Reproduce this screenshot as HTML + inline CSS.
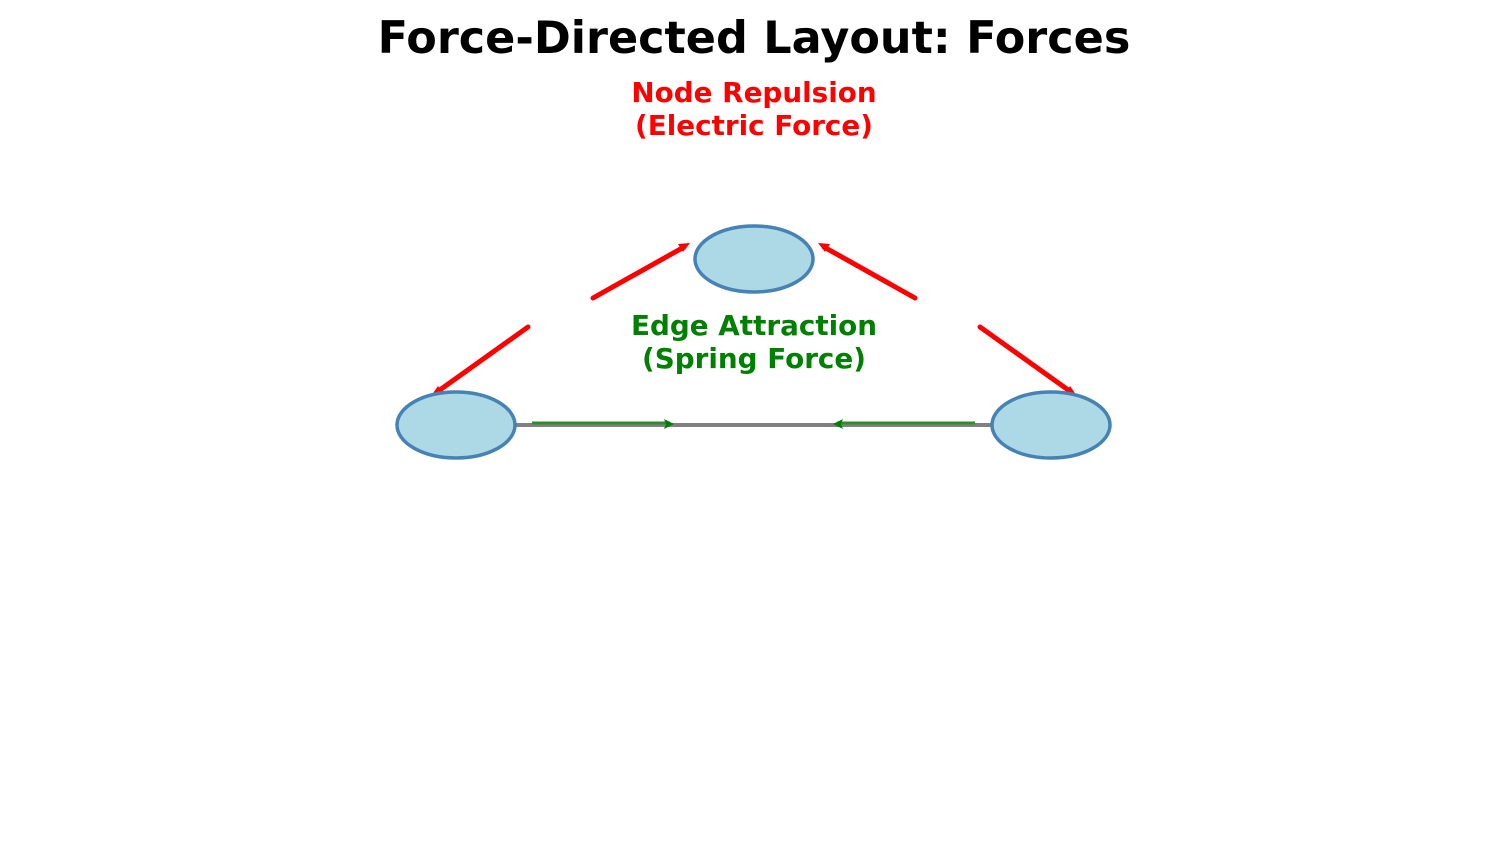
<!DOCTYPE html>
<html><head><style>
html,body{margin:0;padding:0;background:#fff;}
svg text{font-family:"DejaVu Sans","Liberation Sans",sans-serif;font-weight:bold;}
</style></head><body>
<svg width="1508" height="851" viewBox="0 0 1508 851" xmlns="http://www.w3.org/2000/svg">
<text x="754" y="53" text-anchor="middle" font-size="44.5" fill="#000">Force-Directed Layout: Forces</text>
<text x="754" y="102" text-anchor="middle" font-size="27.8" fill="#ff0000">Node Repulsion</text>
<text x="754" y="135" text-anchor="middle" font-size="27.8" fill="#ff0000">(Electric Force)</text>
<text x="754" y="335" text-anchor="middle" font-size="27.8" fill="#008000">Edge Attraction</text>
<text x="754" y="368" text-anchor="middle" font-size="27.8" fill="#008000">(Spring Force)</text>
<line x1="456" y1="425" x2="1051" y2="425" stroke="#808080" stroke-width="4"/>
<g stroke="#2e8b2e" stroke-width="3" fill="none">
<line x1="532" y1="423" x2="670" y2="423"/>
<line x1="975" y1="423" x2="837" y2="423"/>
</g>
<g fill="#008000">
<polygon points="674,424 664,419 666,424 664,429"/>
<polygon points="833,424 843,419 841,424 843,429"/>
</g>
<g stroke="#ff0000" stroke-width="5" stroke-linecap="round" fill="none">
<line x1="593" y1="298" x2="684" y2="247"/>
<line x1="528" y1="327" x2="437" y2="392"/>
<line x1="915" y1="298" x2="824" y2="247"/>
<line x1="980" y1="327" x2="1071" y2="392"/>
</g>
<g fill="#ff0000">
<polygon points="690,243 678,244 683,252"/>
<polygon points="818,243 830,244 825,252"/>
<polygon points="431,396 438,386 443,393"/>
<polygon points="1077,396 1070,386 1065,393"/>
</g>
<g fill="#add8e6" stroke="#4682b4" stroke-width="3.5">
<ellipse cx="754" cy="259" rx="59" ry="33"/>
<ellipse cx="456" cy="425" rx="59" ry="33"/>
<ellipse cx="1051" cy="425" rx="59" ry="33"/>
</g>
</svg>
</body></html>
